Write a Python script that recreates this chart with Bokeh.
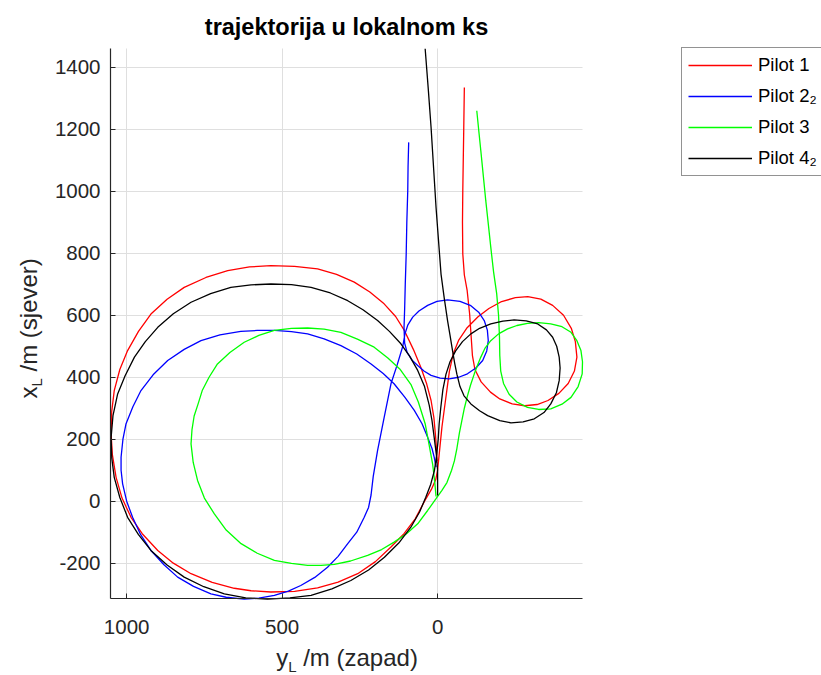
import math
from bokeh.plotting import figure
from bokeh.models import Range1d, FixedTicker, Label
from bokeh.embed import file_html
from bokeh.resources import INLINE

# ---- data: horizontal = y_L (zapad), vertical = x_L (sjever) ----
pilot1_yL = [-86, -84, -81, -80, -81, -86, -95, -103, -108, -112, -120, -140, -170, -200, -240, -280, -320, -355,
             -390, -420, -440, -448, -443, -430, -405, -370, -332, -290, -250, -203, -165, -130, -95, -68, -50, -38,
             -30, -22, -14, -8, -3, 0,
             6, 20, 42, 72, 108, 150, 200, 257, 320, 386, 460, 536, 600, 654, 725, 793, 850, 900, 950, 986, 1015,
             1034, 1046, 1050, 1048, 1040, 1022, 997, 962, 922, 870, 815, 745, 675, 605, 536, 460, 386, 325, 268,
             218, 172, 135, 107, 78, 54, 35, 21, 12, 7, 3, 2]
pilot1_xL = [1335, 1196, 1002, 900, 798, 730, 680, 604, 530, 470, 425, 385, 352, 330, 314, 308, 312, 325,
             348, 380, 420, 465, 515, 558, 600, 632, 652, 660, 657, 643, 622, 595, 560, 520, 475, 420,
             360, 300, 240, 180, 130, 100,
             70, 38, 0, -57, -105, -148, -195, -234, -261, -280, -291, -293, -289, -281, -262, -234, -200, -159, -105,
             -52, 10, 77, 150, 217, 290, 357, 425, 486, 548, 604, 652, 690, 722, 744, 756, 760, 758, 750, 732, 707,
             675, 637, 596, 551, 490, 432, 378, 325, 270, 215, 160, 130]

pilot2_yL = [93, 95, 96, 99, 101, 104, 106, 108, 106, 98, 82, 64, 44, 21, -8, -37, -68, -96, -123, -145, -158, -163,
             -160, -150, -132, -107, -72, -32, 2, 32, 60, 80, 96, 105, 112, 130, 150, 172, 193, 207, 214, 222, 236,
             260, 289, 320, 354, 395, 440, 480, 525, 575, 622, 680, 729, 785, 836, 880, 922, 955, 981, 1000, 1013,
             1018, 1018, 1012, 1002, 980, 954, 915, 868, 815, 761, 700, 633, 580, 525, 470, 418, 365, 311, 260, 214,
             175, 140, 105, 75, 50, 32, 18, 11, 5]
pilot2_xL = [1158, 1080, 1002, 900, 798, 700, 620, 560, 510, 480, 455, 438, 420, 406, 397, 395, 400, 411, 430, 454,
             485, 518, 552, 583, 610, 631, 645, 650, 645, 632, 614, 594, 568, 540, 500, 440, 379, 270, 164, 80, 20,
             -20, -52, -100, -137, -178, -213, -246, -272, -290, -304, -313, -316, -310, -299, -275, -245, -205, -159,
             -108, -52, 0, 56, 100, 142, 200, 250, 305, 357, 408, 454, 490, 518, 537, 548, 551, 551, 547, 540, 524,
             502, 475, 443, 412, 379, 335, 293, 250, 206, 170, 142, 110]

pilot3_yL = [-126, -133, -139, -147, -155, -163, -171, -180, -190, -196, -199, -200, -203, -212, -230, -255, -289,
             -325, -364, -400, -429, -452, -465, -466, -461, -448, -429, -400, -364, -325, -289, -255, -225, -196,
             -171, -152, -139, -128, -118, -106, -96, -86, -78, -70, -62, -54, -45, -30, -14, 5, 32, 64, 100, 140,
             180, 225, 280, 332, 375, 418, 470, 525, 580, 632, 680, 718, 750, 772, 786, 793, 790, 783, 770, 757, 735,
             708, 668, 622, 575, 525, 470, 418, 365, 311, 258, 204, 160, 120, 85, 62, 40, 27, 16, 9, 5]
pilot3_xL = [1260, 1190, 1131, 1050, 969, 895, 820, 740, 670, 600, 530, 470, 420, 380, 345, 320, 303, 296, 298, 313,
             335, 370, 411, 450, 486, 518, 545, 563, 572, 576, 574, 567, 556, 540, 518, 493, 465, 438, 411, 375, 340,
             300, 260, 220, 170, 130, 100, 60, 35, 8, -30, -73, -105, -132, -156, -175, -193, -204, -207, -207, -201,
             -191, -168, -137, -93, -41, 10, 67, 125, 185, 230, 275, 315, 357, 400, 443, 480, 513, 535, 551, 558,
             559, 555, 545, 523, 497, 462, 425, 375, 320, 250, 180, 120, 60, 15]

pilot4_yL = [0, 0, 0, 4, 11, 18, 27, 42, 64, 90, 118, 155, 193, 240, 289, 345, 407, 470, 536, 600, 665, 730, 793,
             850, 900, 940, 975, 1005, 1029, 1044, 1050, 1048, 1040, 1022, 997, 962, 922, 870, 815, 752, 686, 617,
             547, 475, 407, 340, 279, 222, 171, 125, 86, 58, 38, 22, 10, 3, -2, -5, -10, -17, -27, -40, -58, -80,
             -107, -135, -171, -210, -246, -285, -322, -350, -370, -383, -391, -394, -391, -382, -364, -342, -311,
             -275, -236, -200, -161, -135, -107, -85, -72, -62, -55, -48, -40, -32, -21, -11, -3, 5, 13, 21, 30, 40]
pilot4_xL = [18, 60, 99, 150, 206, 260, 310, 370, 422, 468, 508, 548, 583, 618, 647, 672, 690, 699, 701, 698, 690,
             670, 642, 605, 561, 515, 465, 405, 346, 276, 206, 140, 77, 12, -52, -108, -159, -206, -245, -276, -299,
             -312, -316, -312, -304, -283, -256, -222, -181, -135, -84, -35, 13, 55, 100, 150, 200, 250, 300, 360,
             410, 450, 485, 515, 540, 558, 572, 581, 585, 582, 572, 553, 529, 500, 465, 430, 389, 350, 314, 286, 266,
             256, 253, 260, 276, 292, 314, 340, 370, 410, 445, 486, 535, 583, 658, 733, 840, 948, 1077, 1206, 1330,
             1460]

series_names = ["Pilot 1", "Pilot 2\u2082", "Pilot 3", "Pilot 4\u2082"]
series_colors = ["#ff0000", "#0000ff", "#00ff00", "#000000"]

x_ticks = [1000, 500, 0]
y_ticks = [-200, 0, 200, 400, 600, 800, 1000, 1200, 1400]
x_limits = (-466, 1052)   # axis box (tight)
y_limits = (-315, 1460)

FONT = "Liberation Sans"
DARK = "#262626"

W, H = 821, 675
# pixel box of the axes inside the canvas
BOX_L, BOX_R, BOX_T, BOX_B = 110, 582, 48.3, 598.3
sx = (BOX_R - BOX_L) / (x_limits[1] - x_limits[0])
sy = (BOX_B - BOX_T) / (y_limits[1] - y_limits[0])
x_start = x_limits[1] + BOX_L / sx
x_end = x_limits[1] - (W - BOX_L) / sx
y_end = y_limits[1] + BOX_T / sy
y_start = y_limits[0] - (H - BOX_B) / sy

p = figure(width=W, height=H, output_backend="svg", toolbar_location=None,
           x_range=Range1d(x_start, x_end), y_range=Range1d(y_start, y_end),
           min_border=0)
p.title.visible = False
p.outline_line_color = None
p.background_fill_color = "white"
p.border_fill_color = "white"

series = [(pilot1_yL, pilot1_xL), (pilot2_yL, pilot2_xL), (pilot3_yL, pilot3_xL), (pilot4_yL, pilot4_xL)]
for (xs, ys), name, col in zip(series, series_names, series_colors):
    p.line(xs, ys, line_color=col, line_width=1.3, legend_label=name)

xa, ya = p.xaxis[0], p.yaxis[0]
xa.fixed_location = y_limits[0]
xa.bounds = x_limits
ya.fixed_location = x_limits[1]
ya.bounds = y_limits
for ax, ticks in ((xa, x_ticks), (ya, y_ticks)):
    ax.ticker = FixedTicker(ticks=ticks)
    ax.minor_tick_line_color = None
    ax.major_tick_in = 5
    ax.major_tick_out = 0
    ax.axis_line_color = DARK
    ax.major_tick_line_color = DARK
    ax.axis_line_width = 1.2
    ax.major_label_text_font = FONT
    ax.major_label_text_font_size = "20.5px"
    ax.major_label_text_color = DARK
    ax.major_label_overrides = {t: str(t) for t in ticks}
xa.major_label_standoff = 21
ya.major_label_standoff = 10

xg, yg = p.xgrid[0], p.ygrid[0]
xg.bounds = x_limits
xg.cross_bounds = y_limits
yg.bounds = y_limits
yg.cross_bounds = x_limits
for g in (xg, yg):
    g.grid_line_color = "#dfdfdf"
    g.grid_line_width = 1

lg = p.legend[0]
lg.location = (681, H - 176)
lg.border_line_color = DARK
lg.border_line_width = 1
lg.background_fill_color = "white"
lg.background_fill_alpha = 1
lg.label_text_font = FONT
lg.label_text_font_size = "18.5px"
lg.label_text_color = "black"
lg.glyph_width = 64
lg.glyph_height = 22
lg.label_height = 22
lg.label_standoff = 6
lg.spacing = 9
lg.padding = 6
lg.margin = 0


def lab(px, py, text, size, angle=0.0, bold=False, color=DARK, align="left"):
    # px, py: canvas pixel position (from top-left); converted to screen units (from bottom-left)
    p.add_layout(Label(x=px, y=H - py, x_units="screen", y_units="screen", text=text, angle=angle,
                       text_font=FONT, text_font_size=size, text_color=color,
                       text_font_style="bold" if bold else "normal",
                       text_align=align, text_baseline="alphabetic"))


# title
lab(346, 26.2, "trajektorija u lokalnom ks", "23.5px", bold=True, color="black", align="center")
# x label: y_L /m (zapad)
lab(275.7, 656.5, "y", "24px")
lab(287.7, 665.7, "L", "15px")
lab(302.7, 656.5, "/m (zapad)", "24px")
# y label: x_L /m (sjever)
lab(28, 398, "x", "24px", angle=math.pi / 2)
lab(36.2, 386, "L", "15px", angle=math.pi / 2)
lab(28, 371, "/m (sjever)", "24px", angle=math.pi / 2)

open("out.html", "w").write(file_html(p, INLINE))
